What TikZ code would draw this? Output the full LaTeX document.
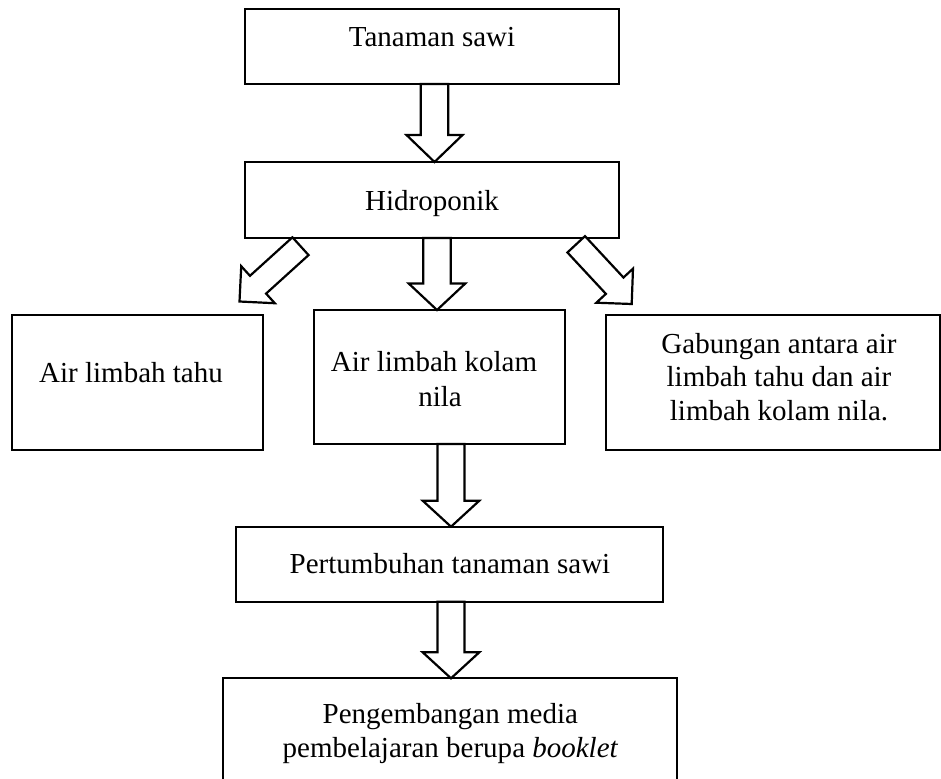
\documentclass[tikz,border=0pt]{standalone}
\usepackage{fontspec}
\setmainfont{Liberation Serif}
\usetikzlibrary{calc}
\tikzset{
  box/.style={draw, line width=2.3pt, inner sep=0pt, outer sep=0pt},
  arr/.style={draw, fill=white, line width=2.2pt, line join=miter},
  txt/.style={anchor=base, inner sep=0pt, font=\fontsize{29}{34}\selectfont}
}
% block arrow: start, end, shaft half width, head half width, head length
\newcommand{\blockarr}[5]{%
  \coordinate (hb) at ($(#2)!#5!(#1)$);
  \draw[arr] ($(#1)!#3!90:(#2)$) -- ($(hb)!#3!90:(#2)$) -- ($(hb)!#4!90:(#2)$)
    -- (#2) -- ($(hb)!#4!-90:(#2)$) -- ($(hb)!#3!-90:(#2)$) -- ($(#1)!#3!-90:(#2)$) -- cycle;
}
\begin{document}
\begin{tikzpicture}[x=1pt,y=-1pt]
\clip (0,0) rectangle (941,778);
\fill[white] (0,0) rectangle (941,778);

% boxes
\node[box, minimum width=374pt, minimum height=75pt] (top) at (432,46.5) {};
\node[box, minimum width=374pt, minimum height=76pt] (hidro) at (432,200) {};
\node[box, minimum width=251pt, minimum height=135pt] (left) at (137.5,382.5) {};
\node[box, minimum width=251pt, minimum height=134pt] (mid) at (439.5,377) {};
\node[box, minimum width=334pt, minimum height=135pt] (right) at (773,382.5) {};
\node[box, minimum width=427pt, minimum height=75pt] (pert) at (449.5,564.2) {};
\node[box, minimum width=454pt, minimum height=140pt] (bot) at (450.2,748.3) {};

% texts
\node[txt] (t1) at (432,46.7) {Tanaman sawi};
\node[txt] (t2) at (432,210.7) {Hidroponik};
\node[txt] (t3) at (131,382.7) {Air limbah tahu};
\node[txt] (t4a) at (434,371.7) {Air limbah kolam};
\node[txt] (t4b) at (440,406) {nila};
\node[txt] (t5a) at (779,353.3) {Gabungan antara air};
\node[txt] (t5b) at (779,386.7) {limbah tahu dan air};
\node[txt] (t5c) at (779,420) {limbah kolam nila.};
\node[txt] (t6) at (450,573.3) {Pertumbuhan tanaman sawi};
\node[txt] (t7a) at (450.3,723.3) {Pengembangan media};
\node[txt] (t7b) at (450.5,757.5) {pembelajaran berupa \textit{booklet}};

% arrow anchors
\coordinate (xa) at (434.5,0);
\coordinate (xm) at (437,0);
\coordinate (xl) at (451,0);
\coordinate (a1s) at (top.south -| xa);
\coordinate (a1e) at (hidro.north -| xa);
\coordinate (a2s) at (hidro.south -| xm);
\coordinate (a2e) at (mid.north -| xm);
\coordinate (a3s) at (mid.south -| xl);
\coordinate (a3e) at (pert.north -| xl);
\coordinate (a4s) at (pert.south -| xl);
\coordinate (a4e) at (bot.north -| xl);
\coordinate (dls) at (300.5,246.2);
\coordinate (dle) at (239.5,301.5);
\coordinate (drs) at (576.2,244.3);
\coordinate (dre) at (631.7,304);

\blockarr{a1s}{a1e}{13.8pt}{28pt}{27pt}
\blockarr{a2s}{a2e}{13.7pt}{28.3pt}{26.5pt}
\blockarr{a3s}{a3e}{13.5pt}{28.3pt}{26pt}
\blockarr{a4s}{a4e}{13.5pt}{28.3pt}{26pt}
\blockarr{dls}{dle}{12pt}{25pt}{25pt}
\blockarr{drs}{dre}{12pt}{25pt}{25pt}
\end{tikzpicture}
\end{document}
